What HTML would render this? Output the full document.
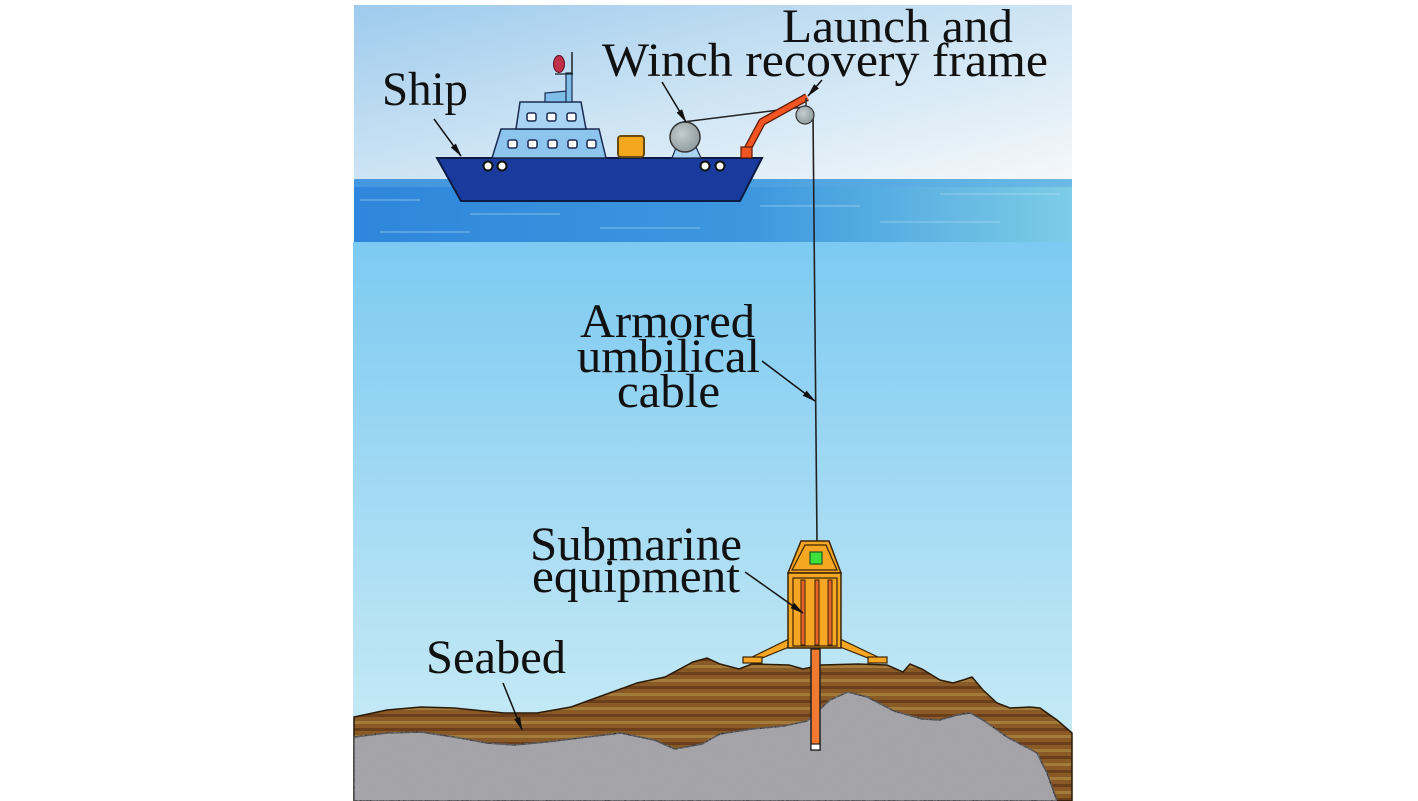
<!DOCTYPE html>
<html>
<head>
<meta charset="utf-8">
<style>
html,body{margin:0;padding:0;background:#fff;}
body{width:1418px;height:801px;overflow:hidden;position:relative;}
svg{position:absolute;left:0;top:0;}
text{font-family:"Liberation Serif","Times New Roman",serif;font-size:48px;fill:#111;}
</style>
</head>
<body>
<svg width="1418" height="801" viewBox="0 0 1418 801" xmlns="http://www.w3.org/2000/svg">
<defs>
  <linearGradient id="sky" x1="0" y1="0" x2="1" y2="1">
    <stop offset="0" stop-color="#9ecbed"/>
    <stop offset="0.5" stop-color="#cde4f4"/>
    <stop offset="1" stop-color="#f5f8fa"/>
  </linearGradient>
  <linearGradient id="seaH" x1="0" y1="0" x2="1" y2="0">
    <stop offset="0" stop-color="#2f86dc"/>
    <stop offset="0.55" stop-color="#3d97de"/>
    <stop offset="1" stop-color="#7ccde6"/>
  </linearGradient>
  <linearGradient id="water" x1="0" y1="0" x2="0" y2="1">
    <stop offset="0" stop-color="#7ccaf2"/>
    <stop offset="0.35" stop-color="#9ad6f3"/>
    <stop offset="0.7" stop-color="#b8e3f4"/>
    <stop offset="1" stop-color="#cdeef6"/>
  </linearGradient>
  <radialGradient id="drum" cx="0.4" cy="0.4" r="0.7">
    <stop offset="0" stop-color="#c4cdcf"/>
    <stop offset="1" stop-color="#8a9698"/>
  </radialGradient>
  <pattern id="stripes" x="0" y="0" width="20" height="14" patternUnits="userSpaceOnUse">
    <rect width="20" height="14" fill="#8a5a26"/>
    <rect y="0" width="20" height="3" fill="#6b3f1c"/>
    <rect y="7" width="20" height="3" fill="#a27b3a"/>
  </pattern>
  <filter id="grain" x="0" y="0" width="100%" height="100%">
    <feTurbulence type="fractalNoise" baseFrequency="0.6" numOctaves="2" seed="3" result="n"/>
    <feColorMatrix in="n" type="matrix" values="0 0 0 0 0.35  0 0 0 0 0.35  0 0 0 0 0.37  0 0 0 0.9 -0.2" result="d"/>
    <feComposite in="d" in2="SourceGraphic" operator="in" result="dd"/>
    <feMerge><feMergeNode in="SourceGraphic"/><feMergeNode in="dd"/></feMerge>
  </filter>
  <marker id="ah" markerWidth="14" markerHeight="8" refX="13" refY="4" orient="auto" markerUnits="userSpaceOnUse">
    <path d="M0,0.8 L14,4 L0,7.2 Z" fill="#111"/>
  </marker>
</defs>

<!-- Sky -->
<rect x="354" y="5" width="718" height="176" fill="url(#sky)"/>
<!-- Sea surface -->
<rect x="354" y="179" width="718" height="64" fill="url(#seaH)"/>
<rect x="354" y="179" width="718" height="8" fill="#5aa8e4" opacity="0.5"/>
<g stroke="#bfe3f7" stroke-width="1.2" opacity="0.45">
  <line x1="360" y1="200" x2="420" y2="200"/>
  <line x1="470" y1="214" x2="560" y2="214"/>
  <line x1="600" y1="228" x2="700" y2="228"/>
  <line x1="760" y1="206" x2="860" y2="206"/>
  <line x1="880" y1="222" x2="1000" y2="222"/>
  <line x1="380" y1="232" x2="470" y2="232"/>
  <line x1="940" y1="194" x2="1060" y2="194"/>
</g>
<!-- Underwater -->
<rect x="353" y="242" width="719" height="559" fill="url(#water)"/>

<!-- Seabed brown layer -->
<path d="M354,717 L387,710 L421,707 L454,708 L504,713 L537,713 L571,707 L604,695 L637,683 L665,677 L693,662 L707,658 L720,664 L739,669 L752,664 L789,665 L803,669 L821,665 L858,664 L887,665 L903,672 L910,664 L922,669 L940,680 L953,683 L963,680 L972,677 L983,690 L997,703 L1010,708 L1030,707 L1040,708 L1057,720 L1072,733 L1072,801 L354,801 Z" fill="url(#stripes)" stroke="#2a1a0a" stroke-width="1.5"/>
<!-- Gray rock -->
<path d="M354,737 L387,733 L421,732 L454,737 L487,743 L514,745 L547,742 L587,737 L621,733 L654,740 L675,749 L702,744 L720,734 L752,729 L784,726 L807,721 L830,700 L848,692 L867,697 L894,711 L922,719 L940,720 L957,715 L970,713 L983,720 L1007,737 L1037,753 L1047,773 L1057,801 L354,801 Z" fill="#a6a6aa" stroke="#222" stroke-width="1.5" filter="url(#grain)"/>

<!-- Cable -->
<line x1="683" y1="122" x2="803" y2="107" stroke="#222" stroke-width="1.5"/>
<line x1="813" y1="115" x2="817" y2="542" stroke="#222" stroke-width="1.6"/>

<!-- Ship hull -->
<polygon points="437,158 762,158 740,201 461,201" fill="#1a3b9e" stroke="#0c1a44" stroke-width="2"/>
<!-- lower superstructure -->
<polygon points="492,158 501,129 599,129 606,158" fill="#8ec5ee" stroke="#1a2a50" stroke-width="1.5"/>
<!-- upper superstructure -->
<polygon points="516,129 520,102 581,102 586,129" fill="#a9d3f3" stroke="#1a2a50" stroke-width="1.5"/>
<!-- mast -->
<polygon points="545,102 545,93 567,91 567,102" fill="#7fbde9" stroke="#1a2a50" stroke-width="1.2"/>
<rect x="566" y="73" width="6" height="29" fill="#7fbde9" stroke="#1a2a50" stroke-width="1.2"/>
<line x1="572" y1="52" x2="572" y2="74" stroke="#222" stroke-width="1.5"/>
<line x1="555" y1="74" x2="573" y2="74" stroke="#222" stroke-width="1.2"/>
<ellipse cx="559" cy="64" rx="5.5" ry="8.5" fill="#c0304a" stroke="#5a1020" stroke-width="1"/>
<!-- windows upper -->
<g fill="#fff" stroke="#1a2a50" stroke-width="1.5">
  <rect x="527" y="113" width="9" height="8" rx="2"/>
  <rect x="547" y="113" width="9" height="8" rx="2"/>
  <rect x="567" y="113" width="9" height="8" rx="2"/>
  <rect x="508" y="140" width="9" height="8" rx="2"/>
  <rect x="528" y="140" width="9" height="8" rx="2"/>
  <rect x="548" y="140" width="9" height="8" rx="2"/>
  <rect x="568" y="140" width="9" height="8" rx="2"/>
  <rect x="587" y="140" width="9" height="8" rx="2"/>
</g>
<!-- portholes -->
<g fill="#fff" stroke="#111" stroke-width="2">
  <circle cx="488" cy="166" r="4.5"/>
  <circle cx="502" cy="166" r="4.5"/>
  <circle cx="705" cy="166" r="4.5"/>
  <circle cx="720" cy="166" r="4.5"/>
</g>
<!-- yellow box -->
<rect x="618" y="136" width="26" height="21" rx="3" fill="#f5a81e" stroke="#6a4a10" stroke-width="2"/>
<!-- winch -->
<polygon points="672,158 677,145 695,145 701,158" fill="#a9d3f3" stroke="#1a2a50" stroke-width="1.2"/>
<circle cx="685" cy="137" r="15" fill="url(#drum)" stroke="#333" stroke-width="1.5"/>
<!-- launch & recovery frame -->
<polyline points="747,150 762,122 807,97" fill="none" stroke="#5a1a08" stroke-width="8" stroke-linejoin="round"/>
<polyline points="747,150 762,122 807,97" fill="none" stroke="#f05522" stroke-width="5.5" stroke-linejoin="round"/>
<rect x="741" y="147" width="11" height="11" fill="#f05522" stroke="#5a1a08" stroke-width="1.2"/>
<line x1="806" y1="98" x2="806" y2="107" stroke="#333" stroke-width="1.5"/>
<circle cx="805" cy="115" r="9" fill="url(#drum)" stroke="#333" stroke-width="1.2"/>

<!-- Submarine equipment -->
<polygon points="801,541 829,541 841,573 788,573" fill="#f5a623" stroke="#3a2408" stroke-width="1.5"/>
<polygon points="805,545 826,545 837,570 792,570" fill="none" stroke="#3a2408" stroke-width="1.2"/>
<rect x="810" y="552" width="12" height="12" fill="#3de03d" stroke="#1a5a1a" stroke-width="1.2"/>
<!-- legs -->
<polygon points="789,639 789,647 762,658 750,658" fill="#f5a623" stroke="#3a2408" stroke-width="1.2"/>
<polygon points="840,639 840,647 868,658 880,658" fill="#f5a623" stroke="#3a2408" stroke-width="1.2"/>
<rect x="743" y="657" width="19" height="6" fill="#f5a623" stroke="#3a2408" stroke-width="1.2"/>
<rect x="868" y="657" width="19" height="6" fill="#f5a623" stroke="#3a2408" stroke-width="1.2"/>
<rect x="788" y="573" width="53" height="75" fill="#f5a623" stroke="#3a2408" stroke-width="1.5"/>
<rect x="793" y="578" width="44" height="68" fill="none" stroke="#3a2408" stroke-width="1.2"/>
<g fill="#e8632a" stroke="#3a2408" stroke-width="1">
  <rect x="801" y="580" width="4" height="65"/>
  <rect x="815" y="580" width="4" height="65"/>
  <rect x="828" y="580" width="4" height="65"/>
</g>
<!-- pile -->
<rect x="811" y="649" width="9" height="101" fill="#f07a30" stroke="#222" stroke-width="1.5"/>
<rect x="811" y="744" width="9" height="6" fill="#fff" stroke="#222" stroke-width="1.2"/>

<!-- Arrows -->
<g stroke="#111" stroke-width="1.5" fill="none" marker-end="url(#ah)">
  <line x1="434" y1="119" x2="461" y2="156"/>
  <line x1="662" y1="82" x2="686" y2="122"/>
  <line x1="822" y1="80" x2="808" y2="96"/>
  <line x1="762" y1="361" x2="815" y2="401"/>
  <line x1="745" y1="572" x2="803" y2="613"/>
  <line x1="503" y1="683" x2="522" y2="730"/>
</g>

<!-- Labels -->
<text x="782" y="42" textLength="231" lengthAdjust="spacingAndGlyphs">Launch and</text>
<text x="602" y="76" textLength="446" lengthAdjust="spacingAndGlyphs">Winch recovery frame</text>
<text x="382" y="105" textLength="86" lengthAdjust="spacingAndGlyphs">Ship</text>
<text x="580" y="337" textLength="175" lengthAdjust="spacingAndGlyphs">Armored</text>
<text x="577" y="372" textLength="183" lengthAdjust="spacingAndGlyphs">umbilical</text>
<text x="617" y="407" textLength="103" lengthAdjust="spacingAndGlyphs">cable</text>
<text x="530" y="560" textLength="212" lengthAdjust="spacingAndGlyphs">Submarine</text>
<text x="532" y="592" textLength="208" lengthAdjust="spacingAndGlyphs">equipment</text>
<text x="426" y="673" textLength="140" lengthAdjust="spacingAndGlyphs">Seabed</text>
</svg>
</body>
</html>
